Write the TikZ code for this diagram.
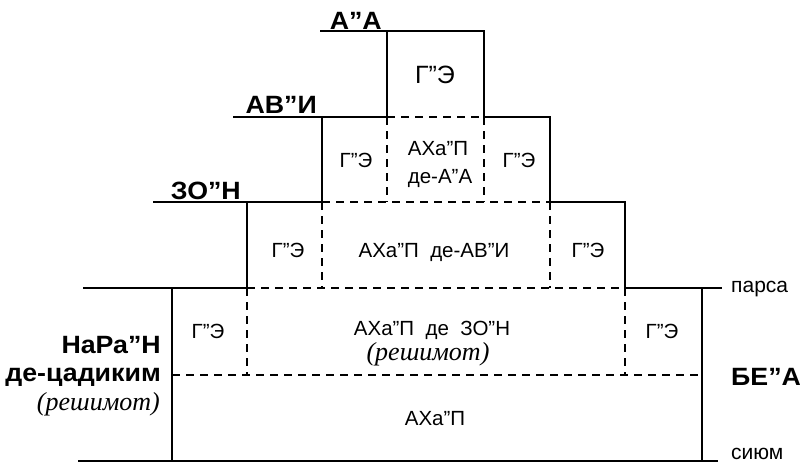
\documentclass[tikz,border=0pt]{standalone}
\usepackage{fontspec}
\setmainfont{Liberation Sans}
\newfontfamily\widebold{Liberation Sans}[FakeStretch=1.07, UprightFont=*-Bold]
\newfontfamily\serifit{Liberation Serif}
\begin{document}
\begin{tikzpicture}[x=1pt,y=-1pt,
  outline/.style={line width=2.6pt, line join=miter, line cap=butt},
  guide/.style={line width=1.4pt, dash pattern=on 8pt off 6pt},
  lab/.style={font=\widebold\fontsize{25}{27}\selectfont, inner sep=0pt},
  txt/.style={font=\fontsize{20.5}{22}\selectfont, inner sep=0pt},
  rem/.style={font=\serifit\itshape\fontsize{26}{28}\selectfont, inner sep=0pt},
  side/.style={font=\fontsize{21}{22}\selectfont, inner sep=0pt, anchor=base west}]
\useasboundingbox (0,0) rectangle (800,463);
% level reference lines
\draw[outline] (320,31) -- (387,31);
\draw[outline] (233,117) -- (322,117);
\draw[outline] (153,202) -- (247,202);
\draw[outline] (83,288) -- (172,288);
% outline of the stepped figure
\draw[outline] (172,461) -- (172,288) -- (247,288) -- (247,202) -- (322,202)
  -- (322,117) -- (387,117) -- (387,31) -- (484,31) -- (484,117) -- (550,117)
  -- (550,202) -- (625,202) -- (625,288) -- (722,288);
\draw[outline] (702,288) -- (702,461);
\draw[outline] (78,461) -- (718,461);
% dashed inner divisions
\draw[guide] (387,117) -- (484,117);
\draw[guide] (387,117) -- (387,202);
\draw[guide] (484,117) -- (484,202);
\draw[guide] (322,202) -- (550,202);
\draw[guide] (322,202) -- (322,288);
\draw[guide] (550,202) -- (550,288);
\draw[guide] (247,288) -- (625,288);
\draw[guide] (247,288) -- (247,375);
\draw[guide] (625,288) -- (625,375);
\draw[guide] (172,375) -- (702,375);
% level labels
\node[lab, anchor=base east] (aa) at (382,29) {А”А};
\node[lab, anchor=base east] (avi) at (317,113) {АВ”И};
\node[lab, anchor=base east] (zon) at (241,199) {ЗО”Н};
\node[lab, anchor=base east] (narn) at (161,353) {НаРа”Н};
\node[lab, anchor=base east] (tsad) at (161,381) {де-цадиким};
\node[rem, anchor=base east] (rem1) at (160,410) {(решимот)};
\node[lab, anchor=base west] (bea) at (731,385) {БЕ”А};
\node[side] (parsa) at (731,292) {парса};
\node[side] (siyum) at (731,459) {сиюм};
% inner texts
\node[txt, anchor=base, font=\fontsize{25}{27}\selectfont] (ge1) at (435,83) {Г”Э};
\node[txt, anchor=base] (ge2l) at (356,167) {Г”Э};
\node[txt, anchor=base] (ge2r) at (519,167) {Г”Э};
\node[txt, anchor=base] (ahap1) at (438,155) {АХа”П};
\node[txt, anchor=base] (deaa) at (440,183) {де-А”А};
\node[txt, anchor=base] (ge3l) at (288,257) {Г”Э};
\node[txt, anchor=base] (ge3r) at (588,257) {Г”Э};
\node[txt, anchor=base] (ahap2) at (434,257) {АХа”П\ \ де-АВ”И};
\node[txt, anchor=base] (ge4l) at (208,338) {Г”Э};
\node[txt, anchor=base] (ge4r) at (662,338) {Г”Э};
\node[txt, anchor=base] (ahap3) at (432,335) {АХа”П\ \ де\ \ ЗО”Н};
\node[rem, anchor=base] (rem2) at (428,360) {(решимот)};
\node[txt, anchor=base] (ahap4) at (435,425) {АХа”П};
\end{tikzpicture}
\end{document}
